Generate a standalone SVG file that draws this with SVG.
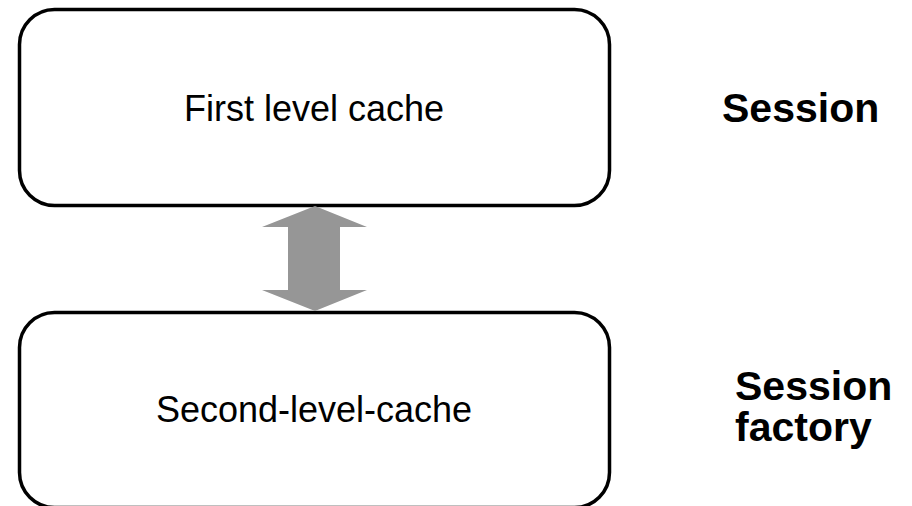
<svg xmlns="http://www.w3.org/2000/svg" width="912" height="506" viewBox="0 0 912 506">
<style>
.box{fill:#fff;stroke:#000;stroke-width:3.5}
.lbl{font-family:"Liberation Sans",Arial,sans-serif;font-size:36px;fill:#000}
.side{font-family:"Liberation Sans",Arial,sans-serif;font-size:41px;font-weight:bold;fill:#000}
.arr{fill:#969696}
</style>
<rect width="912" height="506" fill="#fff"/>
<g id="first-level-cache">
<rect class="box" x="19.5" y="9.5" width="590" height="196" rx="35" ry="35"/>
<text class="lbl" x="314" y="121" text-anchor="middle">First level cache</text>
</g>
<g id="second-level-cache">
<rect class="box" x="19.5" y="312.5" width="590" height="195" rx="35" ry="35"/>
<text class="lbl" x="314" y="422" text-anchor="middle">Second-level-cache</text>
</g>
<g id="session-label">
<text class="side" x="722" y="122">Session</text>
</g>
<g id="session-factory-label">
<text class="side" x="735" y="400">Session</text>
<text class="side" x="735" y="441">factory</text>
</g>
<g id="connectors">
<polygon class="arr" points="315,206 367,227 340,227 340,290 367,290 315,311 262,290 288,290 288,227 262,227"/>
</g>
</svg>
